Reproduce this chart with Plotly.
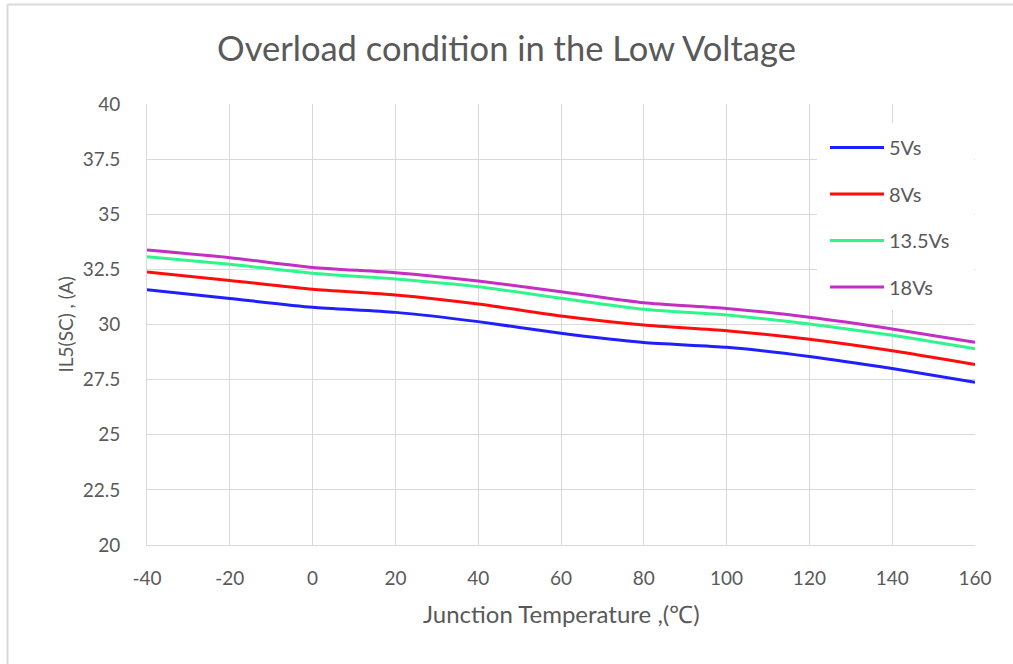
import plotly.graph_objects as go

temps = [-40, -20, 0, 20, 40, 60, 80, 100, 120, 140, 160]
i_5v = [31.58, 31.18, 30.78, 30.55, 30.13, 29.6, 29.18, 28.97, 28.55, 28.0, 27.38]
i_8v = [32.38, 32.0, 31.6, 31.34, 30.93, 30.39, 29.98, 29.72, 29.33, 28.81, 28.19]
i_13v5 = [33.07, 32.73, 32.32, 32.06, 31.71, 31.19, 30.69, 30.43, 30.02, 29.51, 28.9]
i_18v = [33.38, 33.03, 32.59, 32.35, 31.97, 31.49, 30.99, 30.73, 30.33, 29.8, 29.19]

series_names = ["5Vs", "8Vs", "13.5Vs", "18Vs"]
series_vals = [i_5v, i_8v, i_13v5, i_18v]
colors = ["#1f1fff", "#ff0d0d", "#2ef58c", "#c42ec4"]

y_ticks = [20, 22.5, 25, 27.5, 30, 32.5, 35, 37.5, 40]
x_ticks = temps

FONT = "Lato, 'Open Sans', sans-serif"
GRAY = "#595959"
GRID = "#d9d9d9"

fig = go.Figure()
for i, (name, vals, col) in enumerate(zip(series_names, series_vals, colors)):
    fig.add_trace(go.Scatter(
        x=temps, y=vals, name=name, mode="lines",
        line=dict(color=col, width=3, shape="spline", smoothing=0.6),
        legendgroup=f"g{i}",
    ))

fig.update_layout(
    width=1013, height=664,
    margin=dict(l=147, r=38, t=104, b=119),
    paper_bgcolor="white", plot_bgcolor="white",
    title=dict(text="Overload condition in the Low Voltage", x=0.5, xanchor="center",
               y=1 - 49 / 664, yanchor="middle",
               font=dict(family=FONT, size=34.5, color=GRAY)),
    font=dict(family=FONT, color=GRAY),
    legend=dict(x=(825 - 147) / 828, y=(545 - 128) / 441, xanchor="left", yanchor="top",
                bgcolor="white", borderwidth=0,
                font=dict(family=FONT, size=20, color=GRAY),
                tracegroupgap=17.5, itemwidth=54),
    showlegend=True,
)

fig.update_xaxes(
    range=[-40, 160], tickvals=x_ticks, ticktext=[str(t) for t in x_ticks],
    showgrid=True, gridcolor=GRID, gridwidth=1,
    showline=True, linecolor=GRID, linewidth=1, zeroline=False,
    ticks="", ticklabelstandoff=16, tickfont=dict(family=FONT, size=19, color=GRAY),
)
fig.update_yaxes(
    range=[20, 40], tickvals=y_ticks, ticktext=[f"{t:g}" for t in y_ticks],
    showgrid=True, gridcolor=GRID, gridwidth=1,
    showline=True, linecolor=GRID, linewidth=1, zeroline=False,
    ticks="", ticklabelstandoff=22, tickfont=dict(family=FONT, size=19, color=GRAY),
)

# axis titles as annotations for exact placement
fig.add_annotation(text="Junction Temperature ,(℃)", xref="paper", yref="paper",
                   x=0.5, y=(545 - 613) / 441, xanchor="center", yanchor="middle",
                   showarrow=False, font=dict(family=FONT, size=24, color=GRAY))
fig.add_annotation(text="IL5(SC) , (A)", xref="paper", yref="paper",
                   x=(65 - 147) / 828, y=0.5, xanchor="center", yanchor="middle",
                   textangle=-90, showarrow=False, font=dict(family=FONT, size=19, color=GRAY))

# white legend backdrop hiding gridlines (legend itself draws on top)
fig.add_shape(type="rect", xref="paper", yref="paper", layer="above",
              x0=(817 - 147) / 828, x1=(974 - 147) / 828,
              y0=(545 - 310) / 441, y1=(545 - 123) / 441,
              fillcolor="white", line=dict(width=0))

# outer chart border (top and left edges visible)
fig.add_shape(type="line", xref="paper", yref="paper",
              x0=(7.5 - 147) / 828, x1=(1013 - 147) / 828, y0=(545 - 4.5) / 441, y1=(545 - 4.5) / 441,
              line=dict(color=GRID, width=2))
fig.add_shape(type="line", xref="paper", yref="paper",
              x0=(7.5 - 147) / 828, x1=(7.5 - 147) / 828, y0=(545 - 4.5) / 441, y1=(545 - 664) / 441,
              line=dict(color=GRID, width=2))

fig.write_html("out.html", config={"displayModeBar": False},
               post_script="document.body.style.margin='0';document.body.style.overflow='hidden';")
